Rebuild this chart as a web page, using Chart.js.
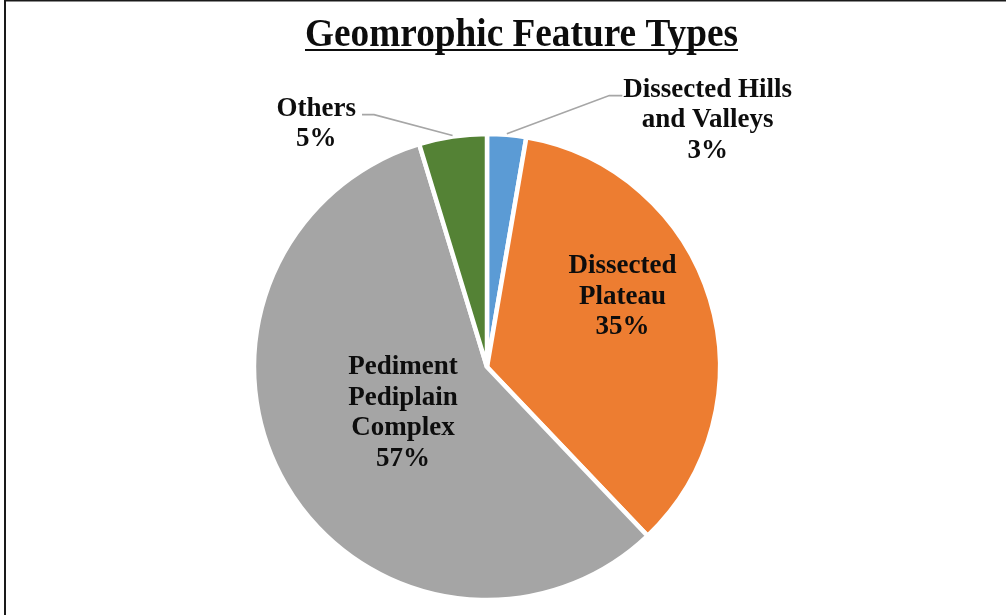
<!DOCTYPE html>
<html>
<head>
<meta charset="utf-8">
<script src="https://cdn.jsdelivr.net/npm/chart.js@4/dist/chart.umd.min.js"></script>
<style>
  html, body { margin: 0; padding: 0; background: #fff; }
  #wrap { position: relative; width: 1006px; height: 615px; overflow: hidden; }
  canvas { display: block; }
</style>
</head>
<body>
<div id="wrap"><canvas id="c" width="1006" height="615"></canvas></div>
<script>
// ---- data ----
const titleText = 'Geomrophic Feature Types';
const categories = ['Dissected Hills and Valleys', 'Dissected Plateau', 'Pediment Pediplain Complex', 'Others'];
const categoryLines = [['Dissected Hills', 'and Valleys'], ['Dissected', 'Plateau'], ['Pediment', 'Pediplain', 'Complex'], ['Others']];
const shares = [2.7, 35.2, 57.4, 4.7];
const sliceColors = ['#5b9bd5', '#ed7d31', '#a5a5a5', '#548235'];

// ---- label layout (per slice, polar relative to slice mid-angle) ----
const labelLayout = [
  { mode: 'outside', rFrac: 1.44, dAngle: 36.7 },
  { mode: 'inside',  rFrac: 0.664, dAngle: -11.1 },
  { mode: 'inside',  rFrac: 0.41,  dAngle: 2.6 },
  { mode: 'outside', rFrac: 1.293, dAngle: -26.4 }
];

const FONT = 'bold 27px "Liberation Serif", "Times New Roman", serif';
const LINE_H = 30.5;
const TEXT_COLOR = '#0d0d0d';

const framePlugin = {
  id: 'frame',
  beforeDraw(chart) {
    const ctx = chart.ctx;
    ctx.save();
    ctx.fillStyle = '#fff';
    ctx.fillRect(0, 0, chart.width, chart.height);
    ctx.fillStyle = '#1a1a1a';
    ctx.fillRect(4, 0, 2, chart.height);
    ctx.fillRect(4, 0, chart.width - 4, 1.5);
    ctx.restore();
  }
};

const titlePlugin = {
  id: 'uTitle',
  afterDraw(chart) {
    const ctx = chart.ctx;
    ctx.save();
    ctx.font = 'bold 39px "Liberation Serif", "Times New Roman", serif';
    const w = ctx.measureText(titleText).width;
    const targetW = 433;
    const sx = targetW / w;
    const cx = 521.5;
    ctx.translate(cx, 0);
    ctx.scale(sx, 1);
    ctx.fillStyle = TEXT_COLOR;
    ctx.textAlign = 'center';
    ctx.textBaseline = 'alphabetic';
    ctx.fillText(titleText, 0, 46);
    ctx.restore();
    ctx.save();
    ctx.fillStyle = TEXT_COLOR;
    ctx.fillRect(cx - targetW / 2, 49, targetW, 2);
    ctx.restore();
  }
};

const sliceLabelPlugin = {
  id: 'sliceLabels',
  afterDatasetsDraw(chart) {
    const ctx = chart.ctx;
    const meta = chart.getDatasetMeta(0);
    const data = chart.data.datasets[0].data;
    const total = data.reduce((a, b) => a + b, 0);
    ctx.save();
    ctx.font = FONT;
    ctx.fillStyle = TEXT_COLOR;
    ctx.textAlign = 'center';
    ctx.textBaseline = 'alphabetic';
    meta.data.forEach((arc, i) => {
      const p = arc.getProps(['x', 'y', 'startAngle', 'endAngle', 'outerRadius'], true);
      const R = p.outerRadius - 2;
      const mid = (p.startAngle + p.endAngle) / 2;
      const lay = labelLayout[i];
      const a = mid + lay.dAngle * Math.PI / 180;
      const cx = p.x + Math.cos(a) * R * lay.rFrac;
      const cy = p.y + Math.sin(a) * R * lay.rFrac;
      const lines = categoryLines[i].concat([Math.round(data[i] / total * 100) + '%']);
      const capH = 18;
      const blockH = (lines.length - 1) * LINE_H + capH;
      const firstBase = cy - blockH / 2 + capH;
      lines.forEach((t, k) => {
        ctx.fillText(t, cx, firstBase + k * LINE_H);
      });
      if (lay.mode === 'outside') {
        const w0 = ctx.measureText(lines[0]).width;
        const ex = p.x + Math.cos(mid) * (R + 3);
        const ey = p.y + Math.sin(mid) * (R + 3);
        const ly = firstBase - 1;
        let sx, kx;
        if (cx < ex) { sx = cx + w0 / 2 + 6; kx = sx + 12; }
        else { sx = cx - w0 / 2 - 1; kx = sx - 13; }
        ctx.save();
        ctx.strokeStyle = '#a6a6a6';
        ctx.lineWidth = 1.6;
        ctx.beginPath();
        ctx.moveTo(sx, ly);
        ctx.lineTo(kx, ly);
        ctx.lineTo(ex, ey);
        ctx.stroke();
        ctx.restore();
      }
    });
    ctx.restore();
  }
};

new Chart(document.getElementById('c'), {
  type: 'pie',
  data: {
    labels: categories,
    datasets: [{
      data: shares,
      backgroundColor: sliceColors,
      borderColor: '#ffffff',
      borderWidth: 4.5,
      hoverOffset: 0
    }]
  },
  options: {
    responsive: false,
    animation: false,
    radius: 233,
    layout: { padding: { left: 0, right: 32, top: 119, bottom: 0 } },
    plugins: {
      legend: { display: false },
      title: { display: false },
      tooltip: { enabled: false }
    },
    events: []
  },
  plugins: [framePlugin, titlePlugin, sliceLabelPlugin]
});
</script>
</body>
</html>
